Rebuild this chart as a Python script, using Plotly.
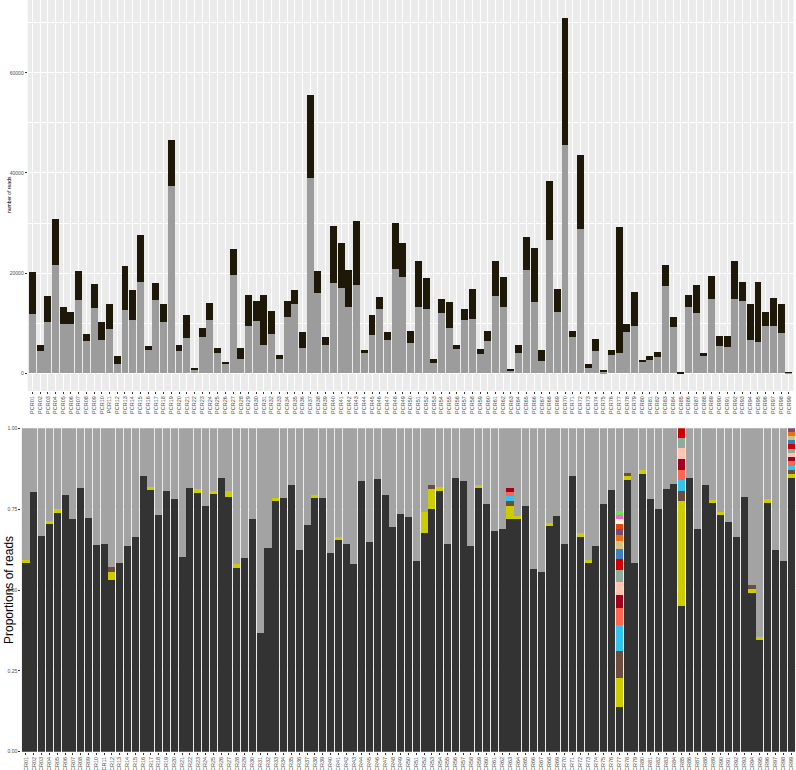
import plotly.graph_objects as go

# -- muestras PCR01..PCR99
samples = ["PCR%02d" % i for i in range(1, 100)]

# -- panel superior: numero de lecturas (gris abajo, oscuro arriba)
gray_reads = [11760, 4520, 10300, 21700, 9830, 9770, 14700, 6450, 13000, 6580,
              8840, 1860, 12560, 10600, 18300, 4700, 14600, 10200, 37400, 4450,
              6980, 800, 7300, 10700, 4000, 1860, 19600, 2860, 9370, 10400,
              5700, 7770, 2800, 11300, 13800, 5050, 38900, 16100, 5600, 18100,
              17000, 13200, 17700, 4000, 7600, 12800, 6600, 20800, 19200, 6050,
              13200, 12900, 2060, 12000, 9100, 4800, 10700, 10800, 3850, 6400,
              15350, 13300, 530, 4050, 20700, 14150, 2500, 26700, 12300, 45500,
              7200, 28800, 1060, 4390, 330, 3720, 4000, 8240, 9500, 2200,
              2660, 3260, 17500, 9240, 45, 13200, 12000, 3400, 14900, 5500,
              5300, 14800, 14350, 6700, 6250, 9400, 9400, 8100, 100]

dark_reads = [8510, 1130, 5100, 9100, 3370, 2430, 5700, 1390, 4900, 3620,
              4910, 1660, 8940, 6100, 9300, 800, 3500, 3700, 9200, 1250,
              4620, 260, 1800, 3300, 1050, 340, 5250, 2140, 6230, 4000,
              9900, 4590, 850, 3050, 2900, 3150, 16700, 4400, 1600, 11400,
              9000, 7500, 12800, 700, 4000, 2400, 1700, 9200, 6900, 2350,
              9200, 6100, 740, 2900, 5100, 850, 2200, 6100, 950, 2000,
              7150, 6000, 270, 1650, 6500, 10950, 2150, 11600, 4500, 25400,
              1200, 14700, 800, 2450, 200, 930, 25200, 1530, 6700, 460,
              740, 1040, 4100, 1960, 55, 2400, 5600, 650, 4500, 2000,
              2200, 7600, 3950, 7050, 11950, 2800, 5700, 5650, 20]

# -- panel inferior: proporciones
prop_main = [0.582, 0.802, 0.668, 0.703, 0.738, 0.795, 0.719, 0.814, 0.723, 0.639,
             0.642, 0.532, 0.583, 0.636, 0.664, 0.854, 0.808, 0.732, 0.805, 0.782,
             0.602, 0.814, 0.801, 0.761, 0.796, 0.845, 0.789, 0.569, 0.599, 0.719,
             0.367, 0.630, 0.775, 0.785, 0.824, 0.624, 0.700, 0.784, 0.784, 0.613,
             0.656, 0.641, 0.580, 0.836, 0.648, 0.843, 0.795, 0.694, 0.734, 0.727,
             0.590, 0.676, 0.749, 0.806, 0.641, 0.845, 0.836, 0.636, 0.815, 0.767,
             0.683, 0.689, 0.719, 0.719, 0.759, 0.564, 0.555, 0.697, 0.730, 0.641,
             0.851, 0.664, 0.582, 0.636, 0.766, 0.808, 0.138, 0.840, 0.582, 0.859,
             0.780, 0.749, 0.813, 0.829, 0.452, 0.845, 0.688, 0.824, 0.768, 0.732,
             0.711, 0.663, 0.788, 0.491, 0.346, 0.769, 0.625, 0.590, 0.845]

prop_yellow = {"PCR01": 0.012, "PCR04": 0.011, "PCR05": 0.012, "PCR12": 0.023, "PCR17": 0.010,
               "PCR23": 0.011, "PCR25": 0.011, "PCR27": 0.017, "PCR28": 0.011, "PCR33": 0.011,
               "PCR38": 0.010, "PCR41": 0.009, "PCR52": 0.065, "PCR53": 0.064, "PCR54": 0.012,
               "PCR59": 0.011, "PCR63": 0.040, "PCR64": 0.010, "PCR68": 0.010, "PCR72": 0.013,
               "PCR73": 0.010, "PCR77": 0.090, "PCR78": 0.011, "PCR80": 0.011, "PCR85": 0.324,
               "PCR89": 0.011, "PCR90": 0.009, "PCR94": 0.013, "PCR95": 0.009, "PCR96": 0.011,
               "PCR99": 0.013}
prop_brown = {"PCR12": 0.017, "PCR53": 0.012, "PCR63": 0.017, "PCR77": 0.082, "PCR78": 0.012,
              "PCR85": 0.031, "PCR94": 0.010, "PCR99": 0.013}
prop_cyan = {"PCR63": 0.015, "PCR77": 0.082, "PCR85": 0.033, "PCR99": 0.013}
prop_coral = {"PCR63": 0.012, "PCR77": 0.052, "PCR85": 0.032, "PCR99": 0.014}
prop_darkred = {"PCR63": 0.013, "PCR77": 0.041, "PCR85": 0.033, "PCR99": 0.013}
prop_peach = {"PCR77": 0.041, "PCR85": 0.033, "PCR99": 0.013}
prop_sage = {"PCR77": 0.036, "PCR85": 0.031, "PCR99": 0.013}
prop_red = {"PCR77": 0.035, "PCR85": 0.031, "PCR99": 0.013}
prop_blue = {"PCR77": 0.031, "PCR99": 0.014}
prop_tan = {"PCR77": 0.025, "PCR99": 0.013}
prop_orange = {"PCR77": 0.018, "PCR99": 0.013}
prop_purple = {"PCR77": 0.018, "PCR99": 0.010}
prop_redorange = {"PCR77": 0.016}
prop_cream = {"PCR77": 0.013}
prop_pink = {"PCR77": 0.013}
prop_green = {"PCR77": 0.013}

minor_taxa = [(prop_yellow, "#cccc00"), (prop_brown, "#6b4e3d"), (prop_cyan, "#33c3ec"),
              (prop_coral, "#ff6650"), (prop_darkred, "#a3001e"), (prop_peach, "#ffc4b0"),
              (prop_sage, "#8eab9b"), (prop_red, "#cc0000"), (prop_blue, "#3b7fc1"),
              (prop_tan, "#d6c07e"), (prop_orange, "#e8711c"), (prop_purple, "#7a4b6c"),
              (prop_redorange, "#e8420f"), (prop_cream, "#fff6d6"), (prop_pink, "#ff5fc4"),
              (prop_green, "#6fdc5a")]

W, H = 796, 770
font_fam = "Liberation Sans, Arial, sans-serif"

fig = go.Figure()

# -- panel superior
fig.add_trace(go.Bar(x=samples, y=gray_reads, marker=dict(color="#9c9c9c", line=dict(width=0)),
                     xaxis="x", yaxis="y"))
fig.add_trace(go.Bar(x=samples, y=dark_reads, marker=dict(color="#1e1808", line=dict(width=0)),
                     xaxis="x", yaxis="y"))

# -- panel inferior
fig.add_trace(go.Bar(x=samples, y=prop_main, marker=dict(color="#333333", line=dict(width=0)),
                     xaxis="x2", yaxis="y2"))
stacked = list(prop_main)
for taxa, col in minor_taxa:
    vals = [taxa.get(s, 0) for s in samples]
    stacked = [a + b for a, b in zip(stacked, vals)]
    fig.add_trace(go.Bar(x=samples, y=vals, marker=dict(color=col, line=dict(width=0)),
                         xaxis="x2", yaxis="y2"))
others = [max(0, 1 - v) for v in stacked]
fig.add_trace(go.Bar(x=samples, y=others, marker=dict(color="#a3a3a3", line=dict(width=0)),
                     xaxis="x2", yaxis="y2"))

tick_font = dict(family=font_fam, size=5.5, color="#4d4d4d")
xcommon = dict(type="category", range=[-0.6, 98.6], showgrid=True, gridcolor="white",
               gridwidth=1, ticks="outside", ticklen=2, tickwidth=0.6, tickcolor="#333333",
               tickangle=-90, tickfont=tick_font, showline=False, zeroline=False,
               automargin=False, fixedrange=True)

fig.update_layout(
    width=W, height=H,
    margin=dict(l=0, r=0, t=0, b=0),
    paper_bgcolor="white",
    plot_bgcolor="#ebebeb",
    barmode="stack",
    bargap=0.1,
    showlegend=False,
    font=dict(family=font_fam),
    xaxis=dict(domain=[27.7 / W, 793.5 / W], anchor="y", **xcommon),
    yaxis=dict(domain=[1 - 391 / H, 1.0], anchor="x", range=[-3545, 74550],
               tickvals=[0, 20000, 40000, 60000], tickformat="d",
               showgrid=True, gridcolor="white", gridwidth=1, zeroline=False,
               minor=dict(tick0=0, dtick=10000, showgrid=True, gridcolor="white",
                          gridwidth=0.5, ticks=""),
               ticks="outside", ticklen=2, tickwidth=0.6, tickcolor="#333333",
               tickfont=dict(family=font_fam, size=5, color="#4d4d4d"),
               automargin=False, fixedrange=True),
    xaxis2=dict(domain=[21.3 / W, 795.7 / W], anchor="y2", **xcommon),
    yaxis2=dict(domain=[1 - 751.7 / H, 1 - 428.3 / H], anchor="x2", range=[0, 1],
                tickvals=[0, 0.25, 0.5, 0.75, 1.0], tickformat=".2f",
                showgrid=True, gridcolor="white", gridwidth=1, zeroline=False,
                ticks="outside", ticklen=2, tickwidth=0.6, tickcolor="#333333",
                tickfont=dict(family=font_fam, size=5, color="#4d4d4d"),
                automargin=False, fixedrange=True),
    annotations=[
        dict(text="number of reads", xref="paper", yref="paper", x=9 / W, y=1 - 195 / H,
             textangle=-90, showarrow=False, font=dict(family=font_fam, size=5, color="black"),
             xanchor="center", yanchor="middle"),
        dict(text="Proportions of reads", xref="paper", yref="paper", x=9 / W, y=1 - 590 / H,
             textangle=-90, showarrow=False, font=dict(family=font_fam, size=12, color="black"),
             xanchor="center", yanchor="middle"),
    ],
)

# la pagina sin margen del body, para que la figura empiece en (0, 0)
fig.write_html("out.html", config=dict(displayModeBar=False),
               post_script="document.body.style.margin='0px';")
